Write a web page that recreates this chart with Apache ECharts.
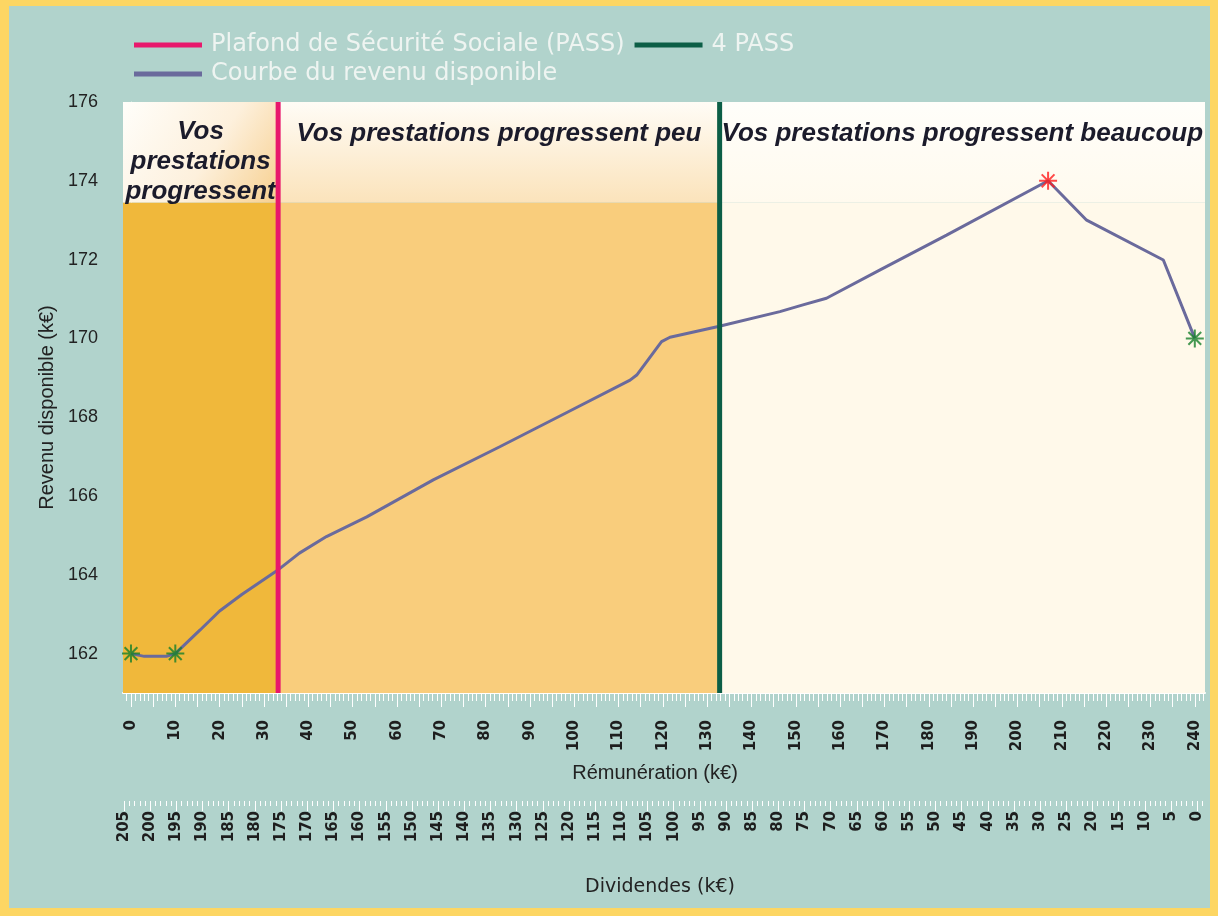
<!DOCTYPE html>
<html><head><meta charset="utf-8">
<script src="https://cdn.jsdelivr.net/npm/echarts@6/dist/echarts.min.js"></script>
<style>
html,body{margin:0;padding:0;background:#fdd663;width:1218px;height:916px;overflow:hidden}
#bg{position:absolute;left:9px;top:6px;width:1201px;height:902px;background:#b1d3cc}
#chart{position:absolute;left:0;top:0;width:1218px;height:916px}
</style></head><body><div id="bg"></div><div id="chart"></div>
<script>
// ---- data ----
const remuneration = [0, 3, 8, 10, 15.6, 20, 25, 32.9, 38, 44.1, 53.2, 68.2, 83.2, 98, 112.6, 114.1, 119.7, 121.6, 132.5, 146.4, 151.6, 156.9, 169, 184, 206.9, 215.6, 232.9, 240];
const revenu =       [162.0, 161.93, 161.93, 162.0, 162.6, 163.08, 163.5, 164.1, 164.55, 164.97, 165.47, 166.41, 167.25, 168.1, 168.94, 169.07, 169.92, 170.03, 170.3, 170.68, 170.85, 171.02, 171.74, 172.62, 174.0, 173.0, 171.99, 170.0];
const greenStarIdx = [0, 3, 27];
const pass = 33.2;
const fourPass = 132.8;
const remTickLabels = [0,10,20,30,40,50,60,70,80,90,100,110,120,130,140,150,160,170,180,190,200,210,220,230,240];
const dividendTickLabels = [205,200,195,190,185,180,175,170,165,160,155,150,145,140,135,130,125,120,115,110,105,100,95,90,85,80,75,70,65,60,55,50,45,40,35,30,25,20,15,10,5,0];
const revenuTickLabels = [162,164,166,168,170,172,174,176];
const zoneTitles = ['Vos\nprestations\nprogressent', 'Vos prestations progressent peu', 'Vos prestations progressent beaucoup'];
const seriesNames = ['Plafond de Sécurité Sociale (PASS)', '4 PASS', 'Courbe du revenu disponible'];
const axisNames = ['Rémunération (k€)', 'Dividendes (k€)', 'Revenu disponible (k€)'];

// ---- layout constants ----
const xMin = -1.8, xMax = 242.3, yMin = 161, yMax = 176, bandY = 173.45;
const dMin = -1.5, dMax = 205.2;

function range(a, b, s) { const r = []; for (let v = a; v <= b + 1e-9; v += s) r.push(Math.round(v * 100) / 100); return r; }
const remMajor = range(0, 240, 5), remMinor = range(-1, 242, 1);
const divMajor = range(0, 205, 5), divMinor = range(-1, 205, 1);
const yMajor = revenuTickLabels, yMinorT = range(161, 176, 0.5);

const curve = remuneration.map((x, i) => [x, revenu[i]]);
let maxIdx = 0; revenu.forEach((v, i) => { if (v > revenu[maxIdx]) maxIdx = i; });
const greenStars = greenStarIdx.map(i => curve[i]);
const redStars = [curve[maxIdx]];

const star = 'path://M0,-10L0,10M-10,0L10,0M-7.1,-7.1L7.1,7.1M-7.1,7.1L7.1,-7.1';
const G = echarts.graphic.LinearGradient;
const txt = { show: true, position: 'insideTop', color: '#1b1b2b', fontStyle: 'italic', fontWeight: 'bold', fontSize: 26, fontFamily: 'Liberation Sans' };

const baseX = { type: 'value', min: xMin, max: xMax, position: 'bottom', gridIndex: 0, splitLine: { show: false } };
const baseD = { type: 'value', min: dMin, max: dMax, inverse: true, position: 'bottom', offset: 108, gridIndex: 0, splitLine: { show: false } };
const baseY = { type: 'value', min: yMin, max: yMax, position: 'left', gridIndex: 0, splitLine: { show: false } };
const white = { color: '#ffffff', width: 1 };
const legendText = { color: '#eef4f1', fontSize: 24, fontFamily: 'DejaVu Sans', padding: [0, 0, 0, 4] };

const chart = echarts.init(document.getElementById('chart'), null, { renderer: 'canvas' });
chart.setOption({
  animation: false,
  backgroundColor: 'transparent',
  grid: { left: 123, right: 13, top: 102, bottom: 223, containLabel: false },
  legend: [
    { data: [seriesNames[0], seriesNames[1]], left: 129, top: 28, icon: 'rect', itemWidth: 68, itemHeight: 5, itemGap: 10, textStyle: legendText },
    { data: [seriesNames[2]], left: 129, top: 57, icon: 'rect', itemWidth: 68, itemHeight: 5, itemGap: 10, textStyle: legendText }
  ],
  xAxis: [
    Object.assign({}, baseX, {
      axisLine: { lineStyle: { color: '#ffffff', width: 2 } },
      axisTick: { customValues: remMajor, length: 14, lineStyle: white },
      axisLabel: { customValues: remTickLabels, rotate: 90, margin: 27, fontSize: 15, fontWeight: 'bold', fontFamily: 'DejaVu Sans', color: '#1e1e1e' },
      name: axisNames[0], nameLocation: 'middle', nameGap: 70,
      nameTextStyle: { fontSize: 20, fontFamily: 'Liberation Sans', color: '#222', padding: [0, 18, 0, 0] }
    }),
    Object.assign({}, baseX, { axisLine: { show: false }, axisLabel: { show: false },
      axisTick: { customValues: remMajor, inside: true, length: 10, lineStyle: white } }),
    Object.assign({}, baseX, { axisLine: { show: false }, axisLabel: { show: false },
      axisTick: { customValues: remMinor, length: 8, lineStyle: white } }),
    Object.assign({}, baseD, {
      axisLine: { show: false },
      axisTick: { customValues: divMajor, length: 10, lineStyle: white },
      axisLabel: { customValues: dividendTickLabels, rotate: 90, margin: 10, fontSize: 15, fontWeight: 'bold', fontFamily: 'DejaVu Sans', color: '#1e1e1e' },
      name: axisNames[1], nameLocation: 'middle', nameGap: 77,
      nameTextStyle: { fontSize: 19, fontFamily: 'DejaVu Sans', color: '#222', padding: [0, 8, 0, 0] }
    }),
    Object.assign({}, baseD, { axisLine: { show: false }, axisLabel: { show: false },
      axisTick: { customValues: divMinor, length: 5, lineStyle: white } })
  ],
  yAxis: [
    Object.assign({}, baseY, {
      axisLine: { show: true, lineStyle: { color: '#eef6f2', width: 1 } },
      axisTick: { customValues: yMajor, length: 8, lineStyle: white },
      axisLabel: { customValues: revenuTickLabels, margin: 25, fontSize: 18, fontFamily: 'Liberation Sans', color: '#222' },
      name: axisNames[2], nameLocation: 'middle', nameGap: 66, nameRotate: 90,
      nameTextStyle: { fontSize: 20, fontFamily: 'Liberation Sans', color: '#222', padding: [0, 20, 0, 0] }
    }),
    Object.assign({}, baseY, { axisLine: { show: false }, axisLabel: { show: false },
      axisTick: { customValues: yMajor, inside: true, length: 8, lineStyle: white } }),
    Object.assign({}, baseY, { axisLine: { show: false }, axisLabel: { show: false },
      axisTick: { customValues: yMinorT, length: 5, lineStyle: white } })
  ],
  series: [
    { name: 'zones', type: 'line', data: [], silent: true, z: 1,
      markArea: { silent: true, data: [
        [{ xAxis: xMin, yAxis: bandY, itemStyle: { color: '#f0b83b' } }, { xAxis: pass, yAxis: yMin }],
        [{ xAxis: pass, yAxis: bandY, itemStyle: { color: '#f9cd7c' } }, { xAxis: fourPass, yAxis: yMin }],
        [{ xAxis: fourPass, yAxis: bandY, itemStyle: { color: '#fff9ea' } }, { xAxis: xMax, yAxis: yMin }],
        [{ xAxis: xMin, yAxis: yMax, label: Object.assign({}, txt, { formatter: zoneTitles[0], lineHeight: 30, distance: 15 }),
           itemStyle: { color: new G(0, 0, 1, 1, [{ offset: 0, color: '#fffefa' }, { offset: 0.55, color: '#fdf0dc' }, { offset: 1, color: '#f7cf8e' }]) } },
         { xAxis: pass, yAxis: bandY }],
        [{ xAxis: pass, yAxis: yMax, label: Object.assign({}, txt, { formatter: zoneTitles[1], distance: 19 }),
           itemStyle: { color: new G(0, 0, 0, 1, [{ offset: 0, color: '#fffcf6' }, { offset: 1, color: '#fbe3bb' }]) } },
         { xAxis: fourPass, yAxis: bandY }],
        [{ xAxis: fourPass, yAxis: yMax, label: Object.assign({}, txt, { formatter: zoneTitles[2], distance: 19 }),
           itemStyle: { color: new G(0, 0, 0, 1, [{ offset: 0, color: '#fffefa' }, { offset: 1, color: '#fffaee' }]) } },
         { xAxis: xMax, yAxis: bandY }]
      ] } },
    { name: seriesNames[2], type: 'line', data: curve, showSymbol: false, z: 3,
      lineStyle: { color: '#6a6a9c', width: 3 }, itemStyle: { color: '#6a6a9c' } },
    { name: seriesNames[0], type: 'line', data: [[pass, yMin], [pass, yMax]], showSymbol: false, z: 4,
      lineStyle: { color: '#e8186c', width: 5 }, itemStyle: { color: '#e8186c' } },
    { name: seriesNames[1], type: 'line', data: [[fourPass, yMin], [fourPass, yMax]], showSymbol: false, z: 4,
      lineStyle: { color: '#0c5e46', width: 5 }, itemStyle: { color: '#0c5e46' } },
    { name: 'stars-green', type: 'scatter', data: greenStars, symbol: star, symbolSize: 18, z: 5,
      itemStyle: { color: 'transparent', borderColor: '#17802a', borderWidth: 2 } },
    { name: 'stars-red', type: 'scatter', data: redStars, symbol: star, symbolSize: 18, z: 5,
      itemStyle: { color: 'transparent', borderColor: '#ff1c1c', borderWidth: 2 } }
  ]
});
</script></body></html>
